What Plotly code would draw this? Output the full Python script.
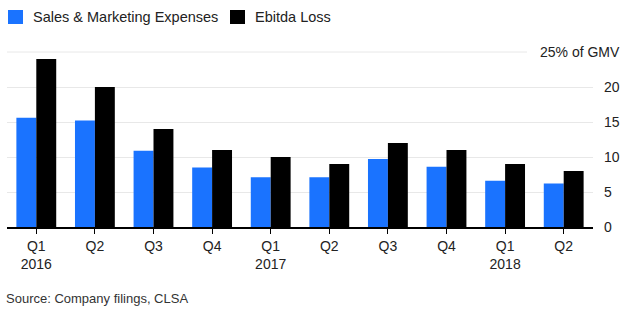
import plotly.graph_objects as go

quarters = ["Q1", "Q2", "Q3", "Q4", "Q1", "Q2", "Q3", "Q4", "Q1", "Q2"]
years = ["2016", "", "", "", "2017", "", "", "", "2018", ""]
sales_marketing = [15.6, 15.2, 10.9, 8.5, 7.1, 7.1, 9.7, 8.6, 6.6, 6.2]
ebitda_loss = [24.0, 20.0, 14.0, 11.0, 10.0, 9.0, 12.0, 11.0, 9.0, 8.0]
y_ticks = [0, 5, 10, 15, 20]
series_names = ["Sales & Marketing Expenses", "Ebitda Loss"]
series_colors = ["#1a73ff", "#000000"]

cats = list(range(len(quarters)))
labels = [q + ("<br>" + y if y else "<br> ") for q, y in zip(quarters, years)]

FONT = "Liberation Sans, Arial, sans-serif"
fig = go.Figure()
for vals, name, col in zip([sales_marketing, ebitda_loss], series_names, series_colors):
    fig.add_trace(go.Bar(x=cats, y=vals, name=name,
                         marker=dict(color=col, line=dict(width=0))))

W, H = 640, 321
ml, mr, mt, mb = 7, 47, 45, 94
plot_w = W - ml - mr
plot_h = H - mt - mb


def px(x):
    return (x - ml) / plot_w


def py(y):
    return (H - mb - y) / plot_h


fig.update_layout(
    width=W, height=H,
    margin=dict(l=ml, r=mr, t=mt, b=mb, pad=0, autoexpand=False),
    paper_bgcolor="white", plot_bgcolor="white",
    barmode="group", bargap=0.32, bargroupgap=0,
    font=dict(family=FONT, size=14, color="#222"),
    showlegend=False,
    xaxis=dict(
        tickmode="array", tickvals=cats, ticktext=labels,
        range=[-0.5, len(cats) - 0.5],
        ticks="outside", ticklen=5, tickcolor="#000", tickwidth=1,
        showline=True, linecolor="#000", linewidth=1.5,
        showgrid=False, zeroline=False,
        tickfont=dict(size=14, color="#222"),
    ),
    yaxis=dict(
        side="right", range=[0, 26], tickvals=y_ticks,
        ticktext=[str(v) for v in y_ticks],
        showgrid=True, gridcolor="#e8e8e8", gridwidth=1,
        zeroline=False, ticks="", ticklabelstandoff=10,
        tickfont=dict(size=14, color="#222"),
    ),
)

# manual legend
leg_x = [8, 230]
for lx, name, col in zip(leg_x, series_names, series_colors):
    fig.add_shape(type="rect", xref="paper", yref="paper",
                  x0=px(lx), x1=px(lx + 15), y0=py(24), y1=py(10),
                  fillcolor=col, line=dict(width=0))
    fig.add_annotation(xref="paper", yref="paper", x=px(lx + 23), y=py(17), text=name,
                       showarrow=False, xanchor="left", yanchor="middle",
                       font=dict(size=14.5, color="#222"))

# top gridline (shortened where label sits) and label
fig.add_shape(type="line", xref="paper", yref="y", x0=0, x1=px(527), y0=25, y1=25,
              line=dict(color="#e8e8e8", width=1), layer="below")
fig.add_annotation(xref="paper", yref="y", x=px(622), y=25, text="25% of GMV",
                   showarrow=False, xanchor="right", yanchor="middle",
                   font=dict(size=14, color="#222"))
fig.add_annotation(xref="paper", yref="paper", x=px(4), y=py(298),
                   text="Source: Company filings, CLSA", showarrow=False,
                   xanchor="left", yanchor="middle", font=dict(size=13, color="#333"))

fig.write_html("out.html")
